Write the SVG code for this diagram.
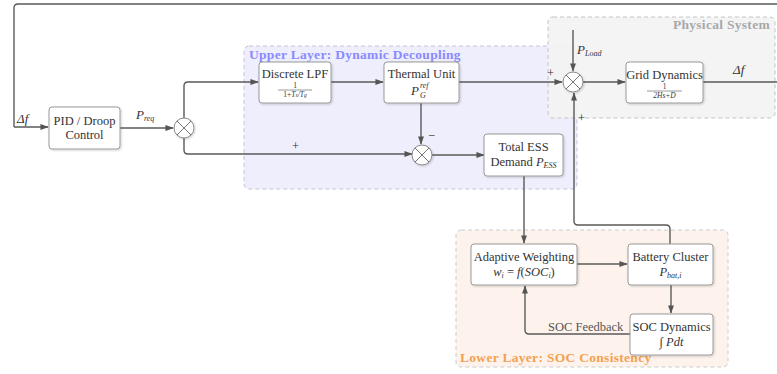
<svg xmlns="http://www.w3.org/2000/svg" width="777" height="374" viewBox="0 0 777 374">
<defs>
<marker id="ah" viewBox="0 0 10 10" refX="9" refY="5" markerWidth="6" markerHeight="6" orient="auto"><path d="M0,1.5 L10,5 L0,8.5 z" fill="#555"/></marker>
<filter id="sh" x="-20%" y="-20%" width="150%" height="150%"><feDropShadow dx="1" dy="1" stdDeviation="0.8" flood-color="#000" flood-opacity="0.18"/></filter>
<style>
.box{fill:#fff;stroke:#9a9a9a;stroke-width:1;filter:url(#sh)}
.sum{fill:#fff;stroke:#8a8a8a;stroke-width:1;filter:url(#sh)}
.x{stroke:#777;stroke-width:1}
.ln{fill:none;stroke:#5a5a5a;stroke-width:1.4}
.arr{marker-end:url(#ah)}
text{font-family:"Liberation Serif","DejaVu Serif",serif;fill:#333;font-size:12.5px}
.c{text-anchor:middle}
.m{font-style:italic}
.sm{font-size:8px}
.fr{font-size:7.5px}
.lbl{font-weight:bold;font-size:13.5px;letter-spacing:0.3px}
</style>
</defs>
<rect x="244" y="46" width="333" height="143" rx="5" fill="#eeeefc" stroke="#c4c4d8" stroke-dasharray="4,3"/>
<rect x="548" y="17" width="227" height="101" rx="5" fill="#f3f3f3" fill-opacity="0.9" stroke="#c4c4c4" stroke-dasharray="4,3"/>
<rect x="456" y="230" width="272" height="137" rx="5" fill="#fdf3ec" stroke="#cccccc" stroke-dasharray="4,3"/>
<text x="249" y="59" class="lbl" style="fill:#8a8aff">Upper Layer: Dynamic Decoupling</text>
<text x="770" y="29" class="lbl" text-anchor="end" style="fill:#a8a8a8">Physical System</text>
<text x="460" y="362" class="lbl" style="fill:#f5a050">Lower Layer: SOC Consistency</text>
<g id="connectors">
<path class="ln" d="M777,4 H18 Q14,4 14,8 V127"/>
<path class="ln arr" d="M14,127 H48"/>
<path class="ln arr" d="M120,128 H173"/>
<path class="ln arr" d="M184,118 V86 Q184,82 188,82 H258"/>
<path class="ln arr" d="M184,138 V150 Q184,154 188,154 H412"/>
<path class="ln arr" d="M331,82 H383"/>
<path class="ln arr" d="M459,82 H562"/>
<path class="ln arr" d="M421,103 V144"/>
<path class="ln arr" d="M432,155 H484"/>
<path class="ln arr" d="M573,30 V71"/>
<path class="ln arr" d="M583,82 H625"/>
<path class="ln" d="M703,82 H777"/>
<path class="ln arr" d="M524,176 V243"/>
<path class="ln arr" d="M670,244 V229 Q670,225 666,225 H578 Q574,225 574,221 V93"/>
<path class="ln arr" d="M577,264 H627"/>
<path class="ln arr" d="M671,285 V313"/>
<path class="ln arr" d="M630,334 H529 Q525,334 525,330 V286"/>
</g>
<text x="17" y="123" class="m" style="font-size:13px">Δf</text>
<text x="136" y="119" class="m" style="font-size:13px">P<tspan class="sm" dy="2">req</tspan></text>
<text x="292" y="150">+</text>
<text x="428" y="140">−</text>
<text x="547" y="77">+</text>
<text x="578" y="122">+</text>
<text x="577" y="54" class="m" style="font-size:13px">P<tspan class="sm" dy="2">Load</tspan></text>
<text x="733" y="74" class="m" style="font-size:13px">Δf</text>
<text x="548" y="331" style="fill:#555">SOC Feedback</text>
<g id="pid"><rect class="box" x="49" y="107" width="71" height="42" rx="3"/><text x="84.5" y="125" class="c">PID / Droop</text><text x="84.5" y="139" class="c">Control</text></g>
<g id="sum1"><circle class="sum" cx="184" cy="128" r="10"/><path class="x" d="M177,121 L191,135 M191,121 L177,135"/></g>
<g id="lpf"><rect class="box" x="259" y="62" width="72" height="41" rx="3"/><text x="295" y="78" class="c">Discrete LPF</text><text x="295" y="88" class="c fr">1</text><line x1="278" y1="90" x2="312" y2="90" stroke="#333" stroke-width="0.5"/><text x="295" y="97" class="c fr">1+<tspan font-style="italic">T<tspan font-size="5.5">s</tspan>/T<tspan font-size="5.5">g</tspan></tspan></text></g>
<g id="thermal"><rect class="box" x="384" y="62" width="75" height="41" rx="3"/><text x="421.5" y="78" class="c">Thermal Unit</text><text x="411" y="95" class="m" style="font-size:13px">P</text><text x="420" y="88" class="m sm">ref</text><text x="420" y="98" class="m sm">G</text></g>
<g id="sum3"><circle class="sum" cx="422" cy="155" r="10"/><path class="x" d="M415,148 L429,162 M429,148 L415,162"/></g>
<g id="ess"><rect class="box" x="484" y="134" width="79" height="42" rx="3"/><text x="523.5" y="151" class="c">Total ESS</text><text x="523.5" y="166" class="c">Demand <tspan font-style="italic">P<tspan class="sm" dy="2">ESS</tspan></tspan></text></g>
<g id="sum2"><circle class="sum" cx="573" cy="82" r="10"/><path class="x" d="M566,75 L580,89 M580,75 L566,89"/></g>
<g id="grid"><rect class="box" x="626" y="62" width="77" height="41" rx="3"/><text x="664.5" y="79" class="c">Grid Dynamics</text><text x="664.5" y="89" class="c fr">1</text><line x1="647" y1="91" x2="682" y2="91" stroke="#333" stroke-width="0.5"/><text x="664.5" y="98" class="c fr m">2Hs+D</text></g>
<g id="aw"><rect class="box" x="471" y="244" width="106" height="41" rx="3"/><text x="524" y="261" class="c">Adaptive Weighting</text><text x="524" y="276" class="c"><tspan font-style="italic">w<tspan class="sm" dy="2">i</tspan></tspan><tspan dy="-2"> = </tspan><tspan font-style="italic">f</tspan>(<tspan font-style="italic">SOC<tspan class="sm" dy="2">i</tspan></tspan><tspan dy="-2">)</tspan></text></g>
<g id="battery"><rect class="box" x="628" y="244" width="85" height="41" rx="3"/><text x="670.5" y="261" class="c">Battery Cluster</text><text x="670.5" y="276" class="c m">P<tspan class="sm" dy="2">bat,i</tspan></text></g>
<g id="soc"><rect class="box" x="630" y="314" width="83" height="41" rx="3"/><text x="671.5" y="331" class="c">SOC Dynamics</text><text x="671.5" y="346" class="c">∫ <tspan font-style="italic">Pdt</tspan></text></g>
</svg>
